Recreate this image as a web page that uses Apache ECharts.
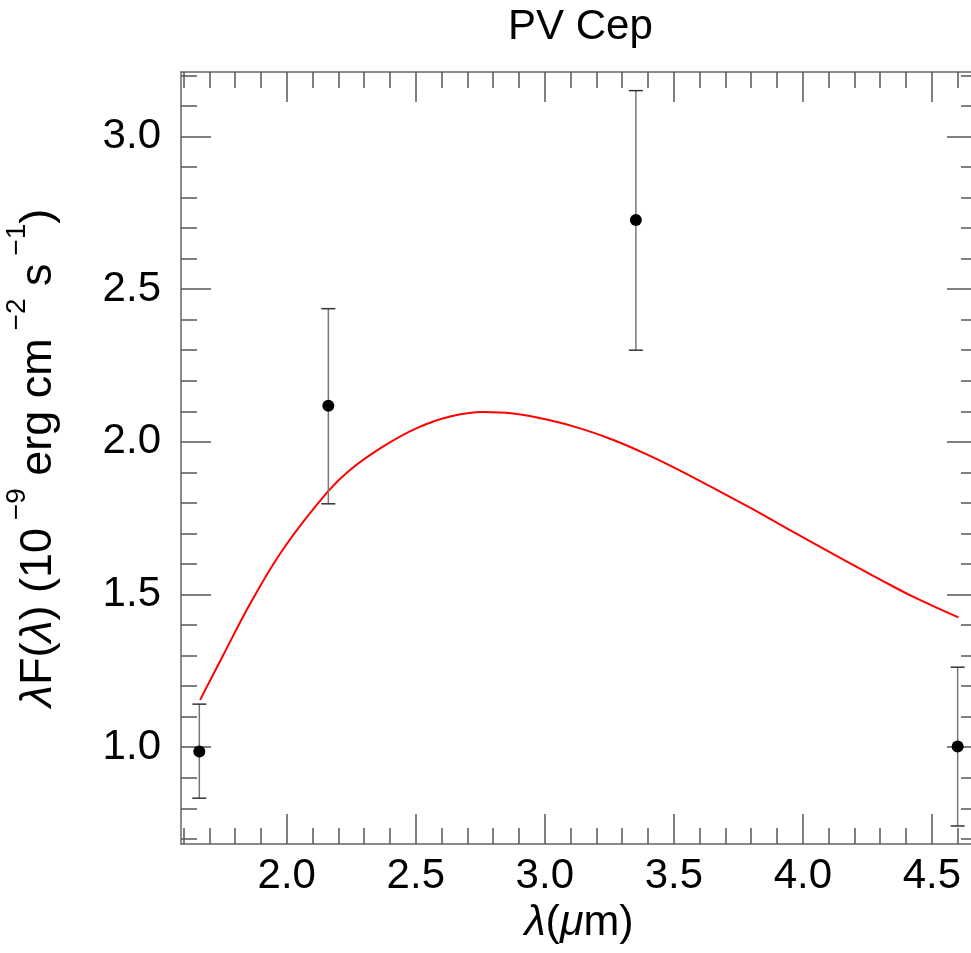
<!DOCTYPE html>
<html>
<head>
<meta charset="utf-8">
<script src="https://cdn.jsdelivr.net/npm/echarts@6/dist/echarts.min.js"></script>
<style>
html,body{margin:0;padding:0;background:#fff;}
#chart{width:971px;height:953px;}
</style>
</head>
<body>
<div id="chart"></div>
<script>
// ---- data ----
const titleText = 'PV Cep';
const pointX = [1.661, 2.161, 3.353, 4.600];
const pointY = [0.986, 2.118, 2.726, 1.002];
const errLow = [0.833, 1.797, 2.300, 0.742];
const errHigh = [1.141, 2.436, 3.150, 1.262];
const curveX = [1.664, 1.754, 1.858, 1.987, 2.157, 2.245, 2.374, 2.504, 2.633, 2.760, 2.878, 3.008, 3.137, 3.266, 3.395, 3.524, 3.653, 3.783, 3.912, 4.041, 4.171, 4.300, 4.429, 4.603];
const curveY = [1.155, 1.302, 1.470, 1.650, 1.835, 1.908, 1.985, 2.045, 2.083, 2.098, 2.093, 2.073, 2.044, 2.006, 1.959, 1.906, 1.849, 1.790, 1.729, 1.668, 1.608, 1.549, 1.492, 1.425];
const xMajorTicks = [2.0, 2.5, 3.0, 3.5, 4.0, 4.5];
const xMinorTicks = [1.6, 1.7, 1.8, 1.9, 2.0, 2.1, 2.2, 2.3, 2.4, 2.5, 2.6, 2.7, 2.8, 2.9, 3.0, 3.1, 3.2, 3.3, 3.4, 3.5, 3.6, 3.7, 3.8, 3.9, 4.0, 4.1, 4.2, 4.3, 4.4, 4.5, 4.6];
const yMajorTicks = [1.0, 1.5, 2.0, 2.5, 3.0];
const yMinorTicks = [0.7, 0.8, 0.9, 1.0, 1.1, 1.2, 1.3, 1.4, 1.5, 1.6, 1.7, 1.8, 1.9, 2.0, 2.1, 2.2, 2.3, 2.4, 2.5, 2.6, 2.7, 2.8, 2.9, 3.0, 3.1, 3.2];
const xRange = [1.59, 4.675];
const yRange = [0.683, 3.211];

const FONT = '"Liberation Sans", Arial, Helvetica, sans-serif';
const AXIS_COLOR = '#666';
const TICK_COLOR = '#555';

function makeAxis(kind, position, ticks, len, showLabel, showLine, range) {
  return {
    type: 'value',
    position: position,
    min: range[0], max: range[1],
    gridIndex: 0,
    axisLine: { show: showLine, onZero: false, lineStyle: { color: AXIS_COLOR, width: 1.5 } },
    axisTick: { show: true, inside: true, length: len, customValues: ticks, lineStyle: { color: TICK_COLOR, width: 1.5 } },
    axisLabel: showLabel ? {
      show: true, customValues: ticks, margin: kind === 'x' ? 11 : 20,
      formatter: v => Number(v).toFixed(1),
      fontFamily: FONT, fontSize: 42, color: '#000'
    } : { show: false },
    splitLine: { show: false },
    minorTick: { show: false },
    minorSplitLine: { show: false }
  };
}

const xAxes = [
  makeAxis('x', 'bottom', xMajorTicks, 30, true, true, xRange),
  makeAxis('x', 'bottom', xMinorTicks, 16, false, false, xRange),
  makeAxis('x', 'top', xMajorTicks, 30, false, true, xRange),
  makeAxis('x', 'top', xMinorTicks, 16, false, false, xRange)
];
const yAxes = [
  makeAxis('y', 'left', yMajorTicks, 30, true, true, yRange),
  makeAxis('y', 'left', yMinorTicks, 16, false, false, yRange),
  makeAxis('y', 'right', yMajorTicks, 30, false, true, yRange),
  makeAxis('y', 'right', yMinorTicks, 16, false, false, yRange)
];

xAxes[0].name = '{i|λ}{n|(}{i|μ}{n|m)}';
xAxes[0].nameLocation = 'middle';
xAxes[0].nameGap = 57;
xAxes[0].nameTextStyle = {
  fontFamily: FONT, fontSize: 43, color: '#000',
  rich: {
    n: { fontFamily: FONT, fontSize: 43, color: '#000' },
    i: { fontFamily: FONT, fontSize: 43, fontStyle: 'italic', color: '#000' }
  }
};

yAxes[0].name = '{i|λ}{n|F(}{i|λ}{n|) (10}{s| −9}{n| erg cm}{s| −2}{n| s}{s| −1}{n|)}';
yAxes[0].nameLocation = 'middle';
yAxes[0].nameRotate = 90;
yAxes[0].nameGap = 120;
yAxes[0].nameTextStyle = {
  fontFamily: FONT, fontSize: 45, color: '#000',
  rich: {
    n: { fontFamily: FONT, fontSize: 45, lineHeight: 58, verticalAlign: 'bottom', color: '#000' },
    i: { fontFamily: FONT, fontSize: 45, lineHeight: 58, verticalAlign: 'bottom', fontStyle: 'italic', color: '#000' },
    s: { fontFamily: FONT, fontSize: 28, lineHeight: 28, verticalAlign: 'top', color: '#000' }
  }
};

const errData = pointX.map((x, i) => [x, errLow[i], errHigh[i]]);
const pointData = pointX.map((x, i) => [x, pointY[i]]);
const curveData = curveX.map((x, i) => [x, curveY[i]]);

const chart = echarts.init(document.getElementById('chart'), null, { renderer: 'canvas' });
chart.setOption({
  animation: false,
  backgroundColor: '#fff',
  title: {
    text: titleText, left: 503, top: 1,
    textStyle: { fontFamily: FONT, fontSize: 42, fontWeight: 'normal', color: '#000' }
  },
  grid: { left: 181, top: 72, width: 796, height: 772, containLabel: false, outerBoundsMode: 'none' },
  xAxis: xAxes,
  yAxis: yAxes,
  series: [
    {
      type: 'line', data: curveData, xAxisIndex: 0, yAxisIndex: 0,
      smooth: 0.4, showSymbol: false, symbol: 'none',
      lineStyle: { color: '#ff0000', width: 2 }, z: 3
    },
    {
      type: 'custom', data: errData, xAxisIndex: 0, yAxisIndex: 0,
      encode: { x: 0, y: [1, 2] }, z: 4,
      renderItem: function (params, api) {
        const x = api.value(0);
        const lo = api.coord([x, api.value(1)]);
        const hi = api.coord([x, api.value(2)]);
        const hw = 7;
        return {
          type: 'group',
          children: [
            { type: 'line', shape: { x1: lo[0], y1: lo[1], x2: hi[0], y2: hi[1] }, style: { stroke: '#777', lineWidth: 1.5 } },
            { type: 'line', shape: { x1: lo[0] - hw, y1: lo[1], x2: lo[0] + hw, y2: lo[1] }, style: { stroke: '#333', lineWidth: 1.5 } },
            { type: 'line', shape: { x1: hi[0] - hw, y1: hi[1], x2: hi[0] + hw, y2: hi[1] }, style: { stroke: '#333', lineWidth: 1.5 } }
          ]
        };
      }
    },
    {
      type: 'scatter', data: pointData, xAxisIndex: 0, yAxisIndex: 0,
      symbol: 'circle', symbolSize: 12, itemStyle: { color: '#000', opacity: 1 }, z: 5
    }
  ]
});
</script>
</body>
</html>
